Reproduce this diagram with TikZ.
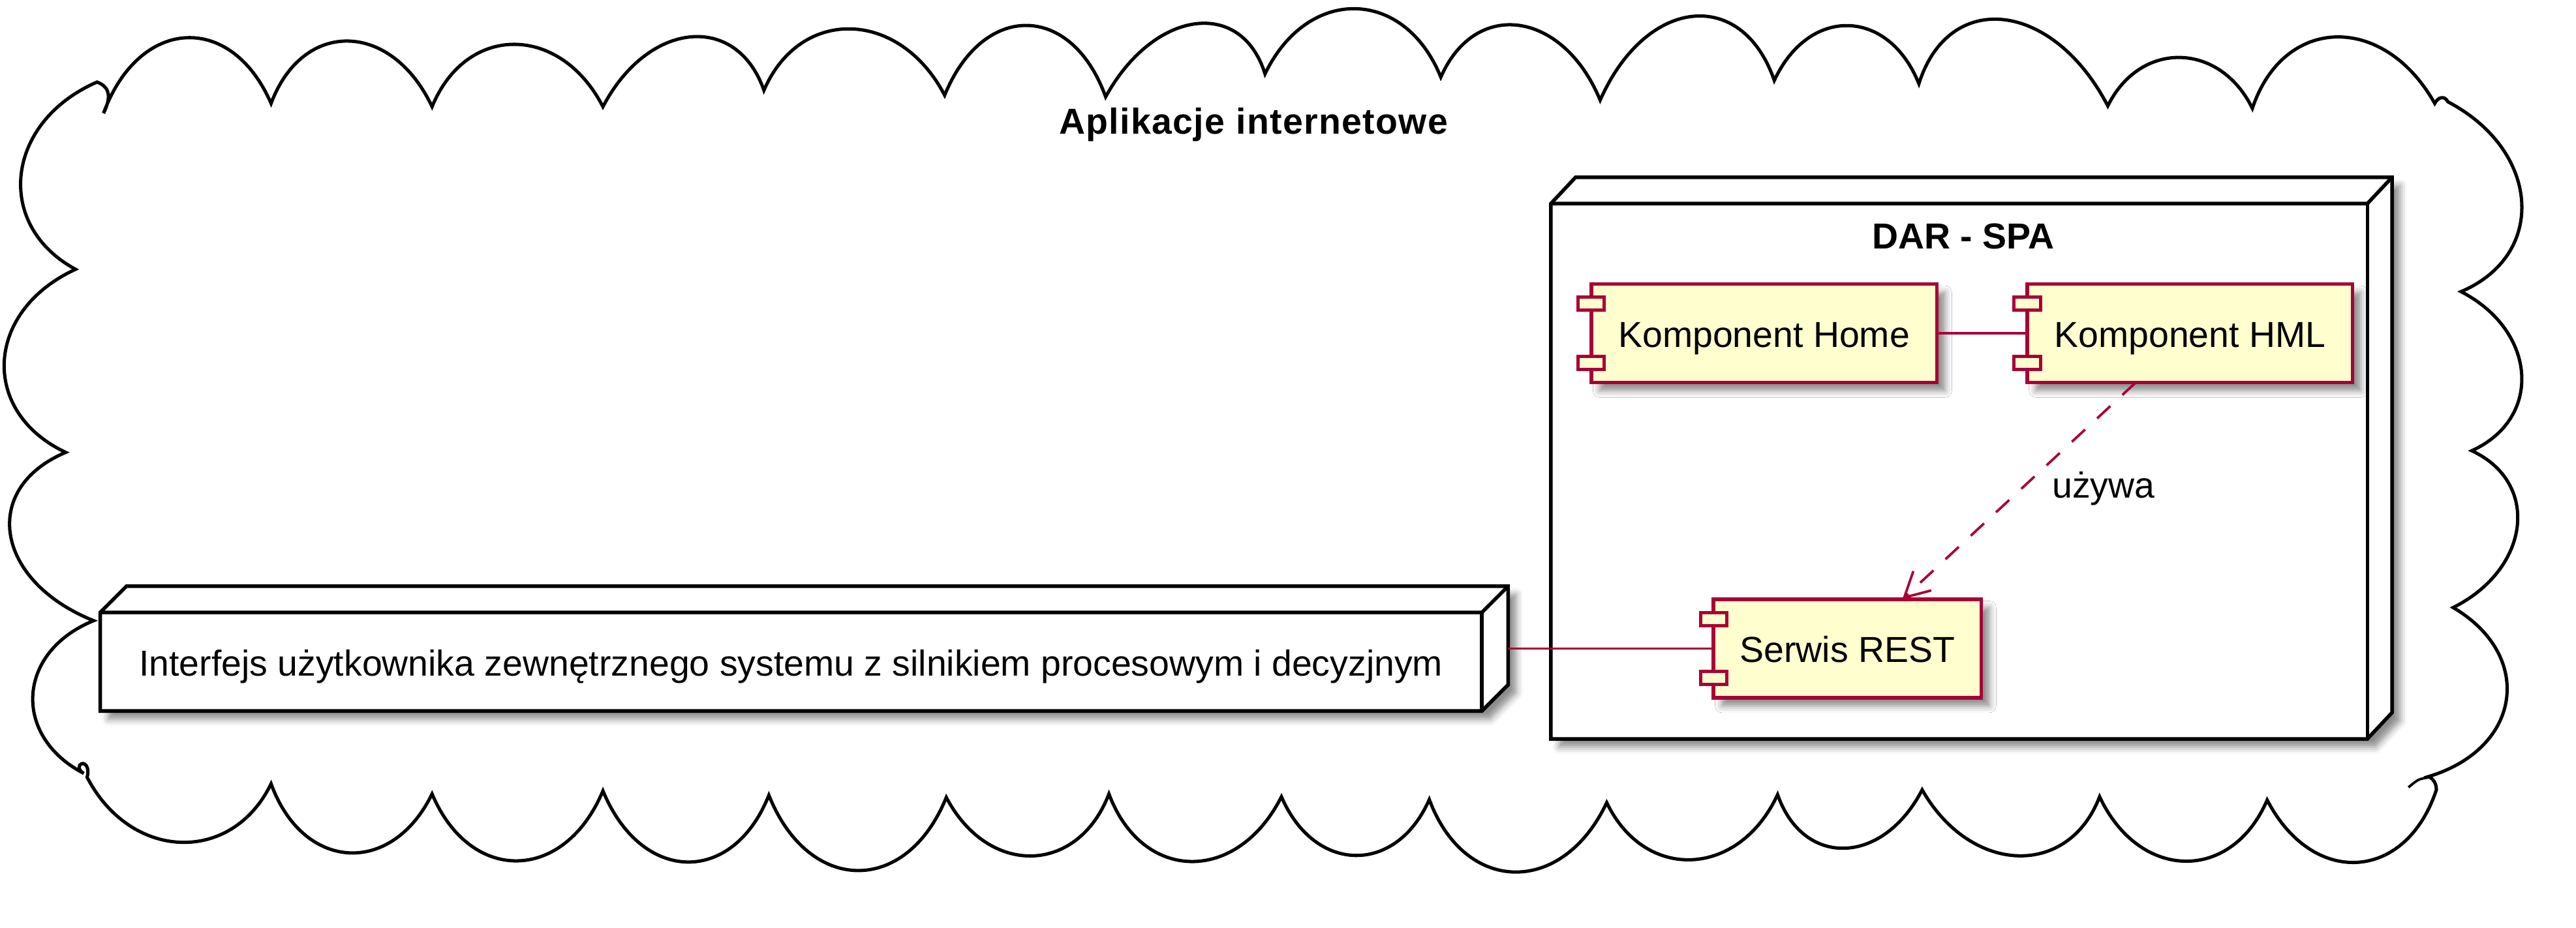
\documentclass[tikz,border=0pt]{standalone}
\usepackage{fontspec}
\setmainfont{Liberation Sans}
\usetikzlibrary{calc,arrows.meta,shadows.blur}
\definecolor{pborder}{HTML}{A80036}
\definecolor{pfill}{HTML}{FEFECE}
\newcommand\bmp[3]{.. controls ($0.1083*(#1)+1.3333*(#2)-0.4417*(#3)$) and ($0.1083*(#3)+1.3333*(#2)-0.4417*(#1)$) .. (#3)}
\begin{document}
\begin{tikzpicture}[x=1pt,y=-1pt,
  txt/.style={font=\fontsize{22}{26}\selectfont},
  btxt/.style={font=\fontsize{22}{26}\selectfont\bfseries},
  shad/.style={blur shadow={shadow xshift=5pt,shadow yshift=-5pt,shadow blur radius=4pt,shadow opacity=45}},
  comp/.style={draw=pborder,fill=pfill,line width=2.2pt,minimum width=#1,minimum height=60pt,
    inner sep=0pt,outer sep=0pt,txt,text height=20.5pt,text depth=3.5pt,shad},
  port/.style={draw=pborder,fill=pfill,line width=2pt},
  edge3d/.style={draw=black,line width=2.2pt,line join=miter},
  conn/.style={draw=pborder,line width=1.5pt},
  cloudline/.style={draw=black,line width=2pt,line join=miter}]
\useasboundingbox (0,0) rectangle (1568,565);

% cloud
\draw[cloudline] (63,69)
 \bmp{63,69}{113,23}{165,63}
 \bmp{165,63}{212,25}{263,65}
 \bmp{263,65}{313,27}{367,65}
 \bmp{367,65}{420,22.5}{465,55}
 \bmp{465,55}{518,17.6}{575,58}
 \bmp{575,58}{625,15.5}{673,59}
 \bmp{673,59}{727,14.6}{770,45}
 \bmp{770,45}{825,5.3}{877,47}
 \bmp{877,47}{925,15.5}{974,61}
 \bmp{974,61}{1030,10}{1080,49}
 \bmp{1080,49}{1125,15.6}{1168,51}
 \bmp{1168,51}{1220,12}{1283,64.5}
 \bmp{1283,64.5}{1327,35}{1371,66}
 \bmp{1371,66}{1422,22.5}{1482,63}
 .. controls (1484,59) and (1488,58) .. (1490,62)
 \bmp{1490,62}{1535,122.5}{1498,177.6}
 \bmp{1498,177.6}{1535,227.7}{1504.5,274.5}
 \bmp{1504.5,274.5}{1532.3,320.7}{1493.2,370}
 \bmp{1493.2,370}{1525.7,426.2}{1478,473}
 .. controls (1481,474) and (1483,477) .. (1483,481)
 \bmp{1483,481}{1435,525.2}{1380,487.2}
 \bmp{1380,487.2}{1330,524.5}{1278,485.2}
 \bmp{1278,485.2}{1228,521.2}{1170,481}
 \bmp{1170,481}{1123,516.6}{1082,483.9}
 \bmp{1082,483.9}{1030,523.6}{978,488.8}
 \bmp{978,488.8}{922,531.1}{870,486.9}
 \bmp{870,486.9}{825,521}{780,485.2}
 \bmp{780,485.2}{725,524.7}{675,483.5}
 \bmp{675,483.5}{628,521.3}{576,485.6}
 \bmp{576,485.6}{522,530.2}{468,484.3}
 \bmp{468,484.3}{418,525}{367,481.6}
 \bmp{367,481.6}{315,524.3}{263,483.5}
 \bmp{263,483.5}{212,519.4}{165,477.3}
 \bmp{165,477.3}{110,513}{53,473.3}
 .. controls (55,467) and (51,463) .. (48.5,466)
 .. controls (47.5,468) and (49,470) .. (51,471)
 \bmp{51,471}{20,423}{57,378}
 \bmp{57,378}{6.4,326}{40,275.5}
 \bmp{40,275.5}{2.6,220}{46,164}
 \bmp{46,164}{12.9,106}{59,50}
 .. controls (65,52) and (69,57) .. (63,69);
\draw[line width=1.5pt] (1478,473.5) .. controls (1472,474.5) .. (1466,479.5);

\node[btxt,anchor=base] (title) at (763,81.8) {\addfontfeature{LetterSpace=2.5}Aplikacje internetowe};

% DAR - SPA node
\node[minimum width=497pt,minimum height=326pt,inner sep=0pt,outer sep=0pt] (dar) at (1192.5,287) {};
\path[fill=white,shad] (dar.north west) -- ($(dar.north west)+(15,-16)$) -- ($(dar.north east)+(15,-16)$)
  -- ($(dar.south east)+(15,-16)$) -- (dar.south east) -- (dar.south west) -- cycle;
\draw[edge3d] (dar.north west) -- ($(dar.north west)+(15,-16)$) -- ($(dar.north east)+(15,-16)$)
  -- ($(dar.south east)+(15,-16)$) -- (dar.south east) -- (dar.south west) -- cycle;
\draw[edge3d] (dar.north west) -- (dar.north east) -- ($(dar.north east)+(15,-16)$);
\draw[edge3d] (dar.north east) -- (dar.south east);
\node[btxt,anchor=base] (darlbl) at ($(dar.north)+(2.5,27.7)$) {DAR - SPA};

% Interface node
\node[minimum width=841pt,minimum height=60pt,inner sep=0pt,outer sep=0pt,txt,text height=20.5pt,text depth=3.5pt] (iface) at (481.5,403) {};
\path[fill=white,shad] (iface.north west) -- ($(iface.north west)+(16,-16)$) -- ($(iface.north east)+(16,-16)$)
  -- ($(iface.south east)+(16,-16)$) -- (iface.south east) -- (iface.south west) -- cycle;
\draw[edge3d] (iface.north west) -- ($(iface.north west)+(16,-16)$) -- ($(iface.north east)+(16,-16)$)
  -- ($(iface.south east)+(16,-16)$) -- (iface.south east) -- (iface.south west) -- cycle;
\draw[edge3d] (iface.north west) -- (iface.north east) -- ($(iface.north east)+(16,-16)$);
\draw[edge3d] (iface.north east) -- (iface.south east);
\node[txt,text height=20.5pt,text depth=3.5pt,inner sep=0pt] (ifacetext) at (iface.center) {Interfejs użytkownika zewnętrznego systemu z silnikiem procesowym i decyzjnym};
\coordinate (ifR) at ($(iface.north east)+(16,-16)$);

% components
\node[comp=210.4pt] (home) at (1073.8,203) {Komponent Home};
\node[comp=198pt] (hml) at (1333,203) {Komponent HML};
\node[comp=163pt] (rest) at (1124.5,395) {Serwis REST};
\foreach \n in {home,hml,rest}{
  \draw[port] ($(\n.north west)+(-8,8)$) rectangle ++(16,8);
  \draw[port] ($(\n.south west)+(-8,-16)$) rectangle ++(16,8);
}

% connectors
\draw[conn] (home.east) -- (hml.west);
\coordinate (hmlout) at ($(hml.south west)!0.333!(hml.south east)$);
\coordinate (restin) at ($(rest.north west)!0.705!(rest.north east)$);
\draw[conn,dash pattern=on 11pt off 10pt,-{Straight Barb[length=15pt,width=16pt]}] (hmlout) -- (restin);
\node[txt,anchor=base west,inner sep=0pt] (uzywa) at (1249,303.3) {używa};
\draw[conn] (ifR |- rest.west) -- (rest.west);
\end{tikzpicture}
\end{document}
